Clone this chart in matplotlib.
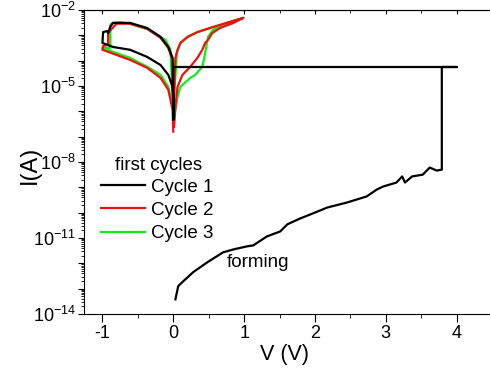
import numpy as np
import matplotlib.pyplot as plt
from matplotlib.ticker import FixedLocator, FuncFormatter, MultipleLocator

plt.rcParams['font.family'] = ['Liberation Sans', 'DejaVu Sans']
plt.rcParams['mathtext.fontset'] = 'custom'
plt.rcParams['mathtext.rm'] = 'Liberation Sans'
plt.rcParams['axes.unicode_minus'] = False

# Cycle 1: forming sweep, compliance return, then negative loop (V, log10 I)
c1_v = [0.03, 0.07, 0.14, 0.28, 0.48, 0.70, 0.85, 1.04, 1.13, 1.32, 1.51, 1.61,
        1.79, 1.97, 2.17, 2.45, 2.73, 2.87, 2.96, 3.15, 3.23, 3.27, 3.37, 3.52,
        3.62, 3.72, 3.79, 3.79, 4.00, 0.03, 0.00, 0.00,
        -0.01, -0.07, -0.18, -0.37, -0.61, -0.75, -0.85, -0.89, -0.92, -0.93,
        -0.99, -1.00,
        -0.85, -0.61, -0.37, -0.18, -0.07, -0.01, 0.00, 0.00]
c1_logi = [-13.42, -12.90, -12.71, -12.35, -11.96, -11.57, -11.45, -11.33, -11.29,
           -10.94, -10.74, -10.46, -10.23, -10.03, -9.80, -9.60, -9.36, -9.09,
           -8.97, -8.81, -8.57, -8.81, -8.57, -8.50, -8.22, -8.34, -8.30,
           -4.25, -4.25, -4.25, -4.25, -6.33,
           -3.89, -3.46, -3.06, -2.71, -2.51, -2.51, -2.51, -2.67, -2.91, -2.83,
           -2.87, -3.30,
           -3.46, -3.57, -3.85, -4.17, -4.56, -5.03, -5.54, -6.33]

# Cycle 2
c2_v = [0.01, 0.04, 0.06, 0.13, 0.24, 0.34, 0.41, 0.45, 0.49, 0.55, 0.66, 0.85, 0.99,
        0.80, 0.56, 0.34, 0.20, 0.10, 0.06, 0.03,
        0.00, -0.01, -0.07, -0.18, -0.37, -0.61, -0.80, -0.92, -0.92, -0.99, -1.00,
        -0.61, -0.37, -0.18, -0.07, -0.01, 0.00]
c2_logi = [-6.60, -5.54, -5.03, -4.56, -4.24, -3.89, -3.57, -3.30, -3.18, -2.91,
           -2.71, -2.51, -2.31,
           -2.47, -2.67, -2.87, -3.06, -3.30, -3.57, -3.89,
           -6.10, -3.97, -3.50, -3.10, -2.74, -2.54, -2.54, -2.90, -3.38, -3.42, -3.57,
           -3.97, -4.28, -4.68, -5.15, -5.94, -6.80]

# Cycle 3
c3_v = [0.01, 0.06, 0.10, 0.24, 0.31, 0.41, 0.45, 0.49, 0.56, 0.76, 0.99,
        0.80, 0.56, 0.34, 0.20, 0.10, 0.05,
        0.00, -0.04, -0.11, -0.37, -0.61, -0.75, -0.86, -0.89, -0.89, -1.00,
        -0.61, -0.37, -0.18, -0.07, 0.00, 0.00]
c3_logi = [-6.21, -5.43, -5.03, -4.68, -4.56, -4.24, -3.69, -3.06, -2.79, -2.51, -2.31,
           -2.48, -2.68, -2.88, -3.08, -3.32, -3.70,
           -5.94, -3.57, -3.18, -2.75, -2.55, -2.47, -2.51, -2.59, -3.50, -3.50,
           -3.89, -4.24, -4.56, -5.03, -5.94, -6.60]

labels = ["Cycle 1", "Cycle 2", "Cycle 3"]
colors = ["black", "#ee1111", "#11ee11"]

fig = plt.figure(figsize=(4.9, 3.79), dpi=100)
ax = fig.add_axes([84 / 490, 1 - 314 / 379, 1 - 84 / 490, 304 / 379])

l3, = ax.plot(c3_v, 10 ** np.array(c3_logi), color=colors[2], lw=1.6)
l2, = ax.plot(c2_v, 10 ** np.array(c2_logi), color=colors[1], lw=1.6)
l1, = ax.plot(c1_v, 10 ** np.array(c1_logi), color=colors[0], lw=1.6)

ax.set_yscale('log')
ax.set_ylim(1e-14, 1e-2)
ax.set_xlim(-1.26, 4.47)

decades = [10.0 ** e for e in range(-14, -1)]
ax.yaxis.set_major_locator(FixedLocator(decades))
ax.yaxis.set_minor_locator(FixedLocator(
    [m * 10.0 ** e for e in range(-14, -2) for m in range(2, 10)]))
ax.yaxis.set_major_formatter(FuncFormatter(
    lambda y, p: r'$\mathregular{10^{%d}}$' % round(np.log10(y))
    if round(np.log10(y)) % 3 == 1 else ''))
ax.xaxis.set_major_locator(MultipleLocator(1))
ax.xaxis.set_minor_locator(MultipleLocator(0.5))

ax.spines['right'].set_visible(False)
ax.spines['top'].set_linewidth(0.8)
ax.tick_params(axis='x', which='both', direction='out', labelsize=13, pad=2)
ax.tick_params(axis='x', which='major', length=6)
ax.tick_params(axis='x', which='minor', length=3)
ax.tick_params(axis='y', which='both', direction='out', labelsize=13, pad=2)
ax.tick_params(axis='y', which='major', length=4)
ax.tick_params(axis='y', which='minor', length=2.5)

# inward ticks along the top edge
top = ax.secondary_xaxis('top')
top.xaxis.set_major_locator(MultipleLocator(1))
top.xaxis.set_minor_locator(MultipleLocator(0.5))
top.tick_params(which='both', direction='in', labeltop=False)
top.tick_params(which='major', length=3)
top.tick_params(which='minor', length=2)
top.spines['top'].set_linewidth(0.8)

ax.set_xlabel("V (V)", fontsize=15.5)
ax.xaxis.set_label_coords(0.495, -0.1)
ax.set_ylabel("I(A)", fontsize=17)
ax.yaxis.set_label_coords(-0.105, 0.49)

fig.text(115 / 490, 1 - 165 / 379, "first cycles", fontsize=13.5, va='center')
ax.legend([l1, l2, l3], labels, loc='upper left', frameon=False, fontsize=13.5,
          bbox_to_anchor=(101 / 490, 1 - 178.5 / 379), bbox_transform=fig.transFigure,
          borderpad=0, borderaxespad=0, handlelength=2.35, handletextpad=0.3,
          labelspacing=0.33)

ax.text(1.2, 10 ** -11.95, "forming", fontsize=13.5, ha='center', va='center')

fig.savefig("out.png", dpi=100)
